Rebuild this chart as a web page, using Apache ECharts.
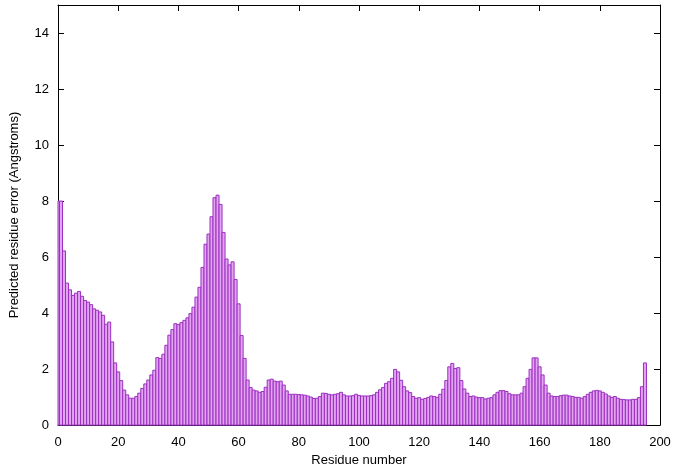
<!DOCTYPE html>
<html>
<head>
<meta charset="utf-8">
<script src="https://cdn.jsdelivr.net/npm/echarts@6/dist/echarts.min.js"></script>
<style>html,body{margin:0;padding:0;background:#fff}#c{width:675px;height:472px}</style>
</head>
<body>
<div id="c"></div>
<script>
// Predicted residue error (Angstroms), residue number = index (0..195)
const errors000to049 = [8.0,8.0,6.22,5.07,4.83,4.63,4.71,4.77,4.6,4.45,4.39,4.3,4.15,4.1,4.04,3.92,3.6,3.68,2.97,2.22,1.9,1.59,1.25,1.08,0.96,0.96,1.02,1.14,1.31,1.47,1.61,1.79,1.96,2.41,2.38,2.53,2.85,3.21,3.41,3.62,3.59,3.66,3.74,3.83,3.98,4.21,4.57,4.92,5.63,6.46];
const errors050to099 = [6.82,7.44,8.12,8.21,7.88,6.88,5.93,5.72,5.83,5.2,4.33,3.2,2.38,1.61,1.34,1.25,1.22,1.17,1.2,1.35,1.61,1.64,1.57,1.55,1.57,1.43,1.22,1.1,1.1,1.1,1.09,1.08,1.07,1.04,1.0,0.95,0.96,1.02,1.14,1.13,1.1,1.08,1.1,1.12,1.17,1.08,1.04,1.04,1.05,1.1];
const errors100to149 = [1.06,1.04,1.04,1.04,1.05,1.08,1.17,1.26,1.34,1.49,1.55,1.67,1.99,1.9,1.6,1.37,1.22,1.16,1.02,0.96,0.98,0.92,0.95,0.99,1.04,1.02,0.99,1.1,1.28,1.59,2.08,2.2,2.02,2.05,1.59,1.29,1.14,1.02,1.04,1.0,0.98,0.98,0.93,0.96,0.98,1.08,1.17,1.23,1.23,1.2];
const errors150to195 = [1.12,1.08,1.08,1.08,1.14,1.37,1.67,1.99,2.4,2.4,2.08,1.79,1.43,1.14,1.04,1.02,1.02,1.05,1.07,1.07,1.04,1.02,0.99,0.99,0.96,1.02,1.1,1.17,1.22,1.24,1.22,1.17,1.11,1.04,0.99,1.02,0.96,0.92,0.91,0.9,0.9,0.92,0.92,0.98,1.37,2.22];
const xTicks = [0,20,40,60,80,100,120,140,160,180,200];
const yTicks = [0,2,4,6,8,10,12,14];

const errors = [].concat(errors000to049, errors050to099, errors100to149, errors150to195);
const data = errors.map((v, i) => [i, v]);

const FONT = "'Liberation Sans', Arial, Helvetica, sans-serif";
const chart = echarts.init(document.getElementById('c'), null, {renderer: 'canvas'});
const axisLine = {show: true, onZero: false, lineStyle: {color: '#000', width: 1}};
const tick = {show: true, inside: true, length: 6, lineStyle: {color: '#000', width: 1}};
chart.setOption({
  animation: false,
  backgroundColor: '#fff',
  grid: {left: 57, right: 15, top: 5, bottom: 45, containLabel: false},
  xAxis: [
    {type: 'value', min: 0, max: 200, interval: 20, position: 'bottom',
     axisLine, axisTick: tick, splitLine: {show: false},
     axisLabel: {color: '#000', fontSize: 13, fontFamily: FONT, margin: 11,
       formatter: v => (xTicks.indexOf(v) >= 0 ? String(v) : '')},
     name: 'Residue number', nameLocation: 'middle', nameGap: 27,
     nameTextStyle: {color: '#000', fontSize: 13, fontFamily: FONT}},
    {type: 'value', min: 0, max: 200, interval: 20, position: 'top',
     axisLine, axisTick: tick, splitLine: {show: false}, axisLabel: {show: false}}
  ],
  yAxis: [
    {type: 'value', min: 0, max: 15, interval: 2, position: 'left',
     axisLine, axisTick: tick, splitLine: {show: false},
     axisLabel: {color: '#000', fontSize: 13, fontFamily: FONT, margin: 9, showMaxLabel: false,
       formatter: v => (yTicks.indexOf(v) >= 0 ? String(v) : '')},
     name: 'Predicted residue error (Angstroms)', nameLocation: 'middle', nameGap: 37, nameRotate: 90,
     nameTextStyle: {color: '#000', fontSize: 13, fontFamily: FONT}},
    {type: 'value', min: 0, max: 15, interval: 2, position: 'right',
     axisLine, axisTick: tick, splitLine: {show: false}, axisLabel: {show: false}}
  ],
  series: [{
    type: 'custom',
    xAxisIndex: 0, yAxisIndex: 0,
    data: data,
    renderItem: function (params, api) {
      const n = api.value(0), v = api.value(1);
      const p0 = api.coord([n - 0.5, v]);
      const p1 = api.coord([n + 0.5, 0]);
      const cs = params.coordSys;
      const x0 = Math.max(p0[0], cs.x);
      const x1 = Math.min(p1[0], cs.x + cs.width);
      return {
        type: 'rect',
        shape: {x: x0, y: p0[1], width: x1 - x0, height: p1[1] - p0[1]},
        style: {fill: '#e2a4f0', stroke: '#9b2fc0', lineWidth: 1}
      };
    }
  }]
});
</script>
</body>
</html>
